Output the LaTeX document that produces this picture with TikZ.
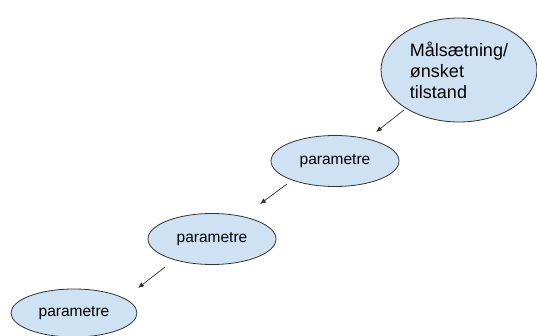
\documentclass[tikz,border=0pt]{standalone}
\usepackage{fontspec}
\setmainfont{Liberation Sans}
\usetikzlibrary{arrows.meta, shapes.geometric}

\definecolor{bubblefill}{HTML}{CFE2F3}
\definecolor{bubbleline}{HTML}{333333}

\begin{document}
\begin{tikzpicture}[
  x=1pt, y=-1pt,
  bubble/.style={ellipse, draw=bubbleline, fill=bubblefill, line width=0.8pt,
                 inner sep=0pt, minimum width=128pt, minimum height=51pt,
                 font=\fontsize{15.5}{18}\selectfont},
  flow/.style={-{Latex[length=6pt, width=5pt]}, line width=0.7pt, draw=bubbleline}
]
\useasboundingbox (0,0) rectangle (537,336);

\node[bubble, minimum width=156pt, minimum height=104pt, align=left,
      font=\fontsize{18}{21}\selectfont] (goal) at (459,70)
  {Målsætning/\\ønsket\\tilstand};
\node[bubble] (par1) at (335,161) {parametre};
\node[bubble] (par2) at (212,239) {parametre};
\node[bubble, minimum width=126pt, minimum height=48pt] (par3) at (74,313) {parametre};

% free arrows between the bubbles
\coordinate (a1s) at (404,110);
\coordinate (a1e) at (376,132);
\coordinate (a2s) at (287,184);
\coordinate (a2e) at (260,204);
\coordinate (a3s) at (165,267);
\coordinate (a3e) at (138,288);

\draw[flow] (a1s) -- (a1e);
\draw[flow] (a2s) -- (a2e);
\draw[flow] (a3s) -- (a3e);
\end{tikzpicture}
\end{document}
